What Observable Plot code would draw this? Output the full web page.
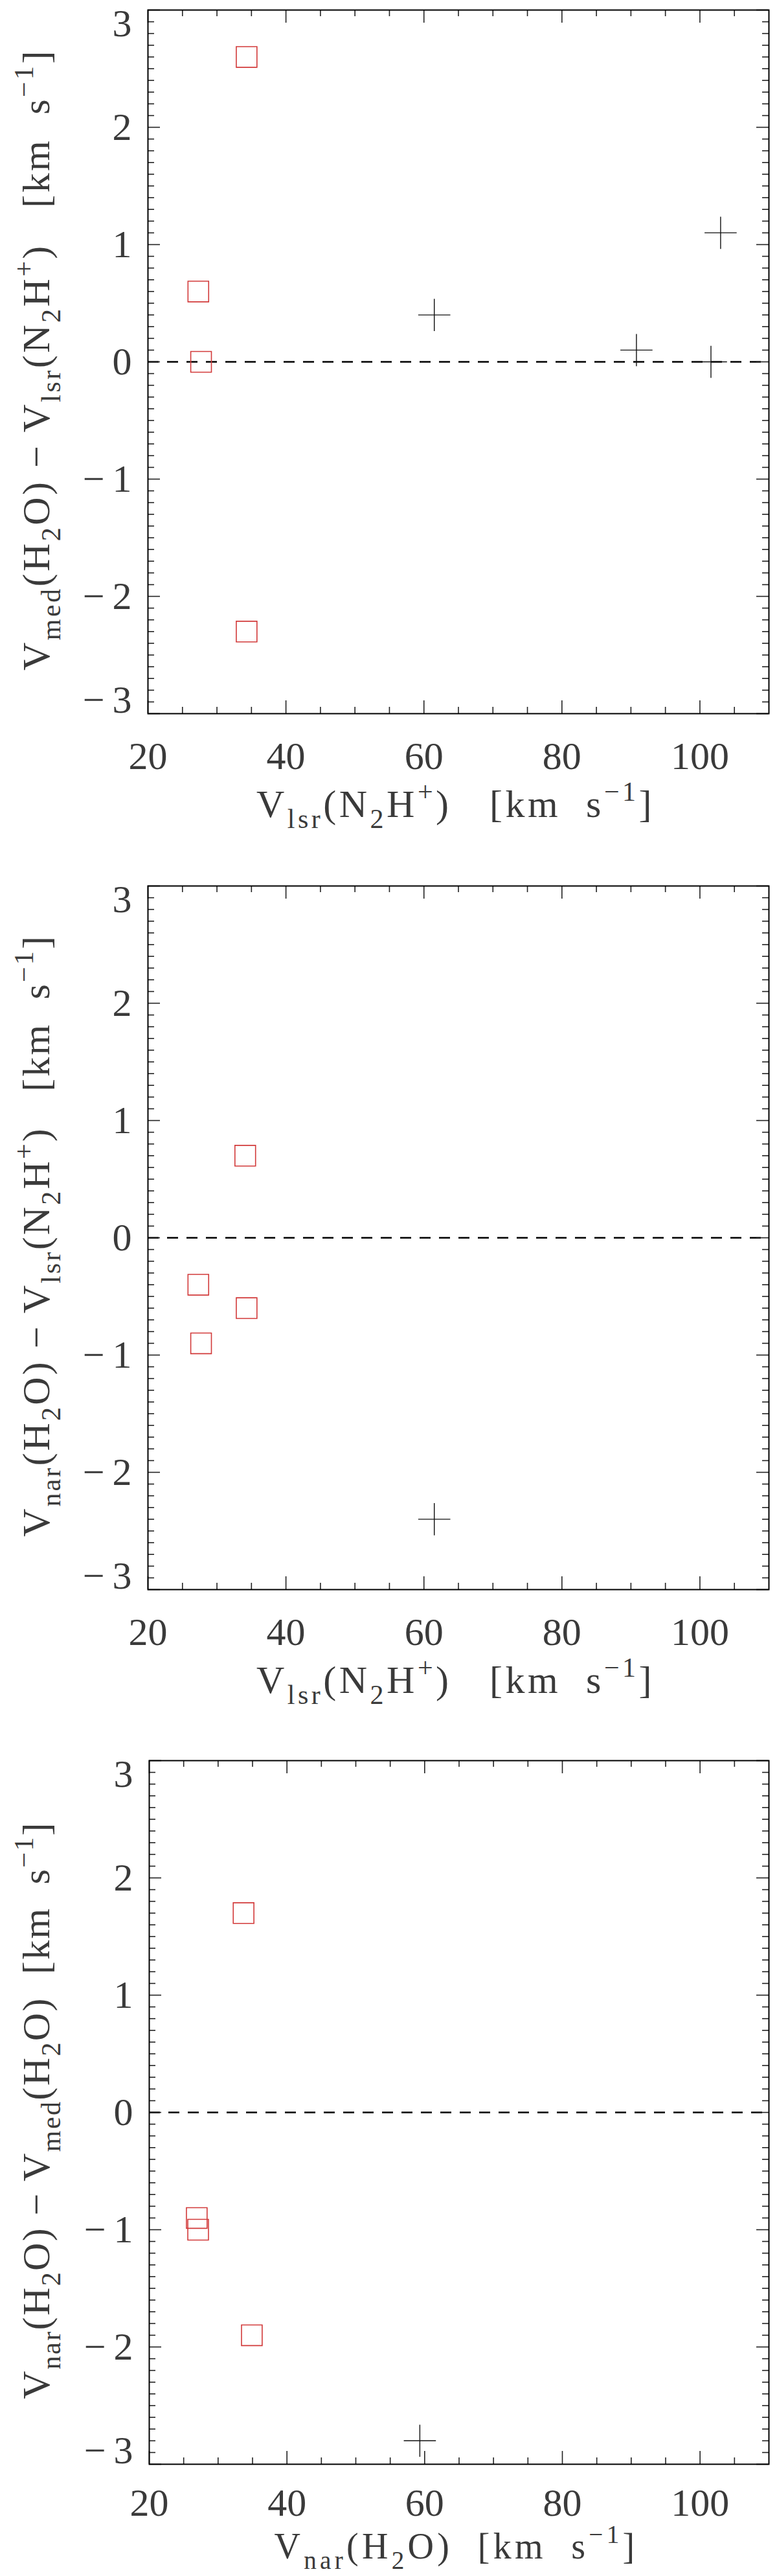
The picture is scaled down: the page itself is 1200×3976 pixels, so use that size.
<!DOCTYPE html>
<html><head><meta charset="utf-8">
<script src="https://cdn.jsdelivr.net/npm/d3@7"></script>
<script src="https://cdn.jsdelivr.net/npm/@observablehq/plot@0.6"></script>
<style>
html,body{margin:0;padding:0;background:#fff;}
#chart{width:1200px;}
#chart svg{display:block;}
</style></head><body><div id="chart"></div>
<script>
// ---- Panel 1: Vmed(H2O) - Vlsr(N2H+) vs Vlsr(N2H+)
const p1SquareX = [34.3, 27.3, 27.7, 34.3];
const p1SquareY = [2.6, 0.6, 0.0, -2.3];
const p1CrossX = [61.5, 90.8, 101.6, 103.0];
const p1CrossY = [0.4, 0.1, 0.0, 1.1];
// ---- Panel 2: Vnar(H2O) - Vlsr(N2H+) vs Vlsr(N2H+)
const p2SquareX = [34.1, 27.3, 34.3, 27.7];
const p2SquareY = [0.7, -0.4, -0.6, -0.9];
const p2CrossX = [61.5];
const p2CrossY = [-2.4];
// ---- Panel 3: Vnar(H2O) - Vmed(H2O) vs Vnar(H2O)
const p3SquareX = [33.7, 26.9, 27.1, 34.9];
const p3SquareY = [1.7, -0.9, -1.0, -1.9];
const p3CrossX = [59.3];
const p3CrossY = [-2.8];

// ---- ticks and labels
const xMajorTicks = [20, 40, 60, 80, 100];
const xMinorTicks = [25, 30, 35, 45, 50, 55, 65, 70, 75, 85, 90, 95, 105];
const yMajorTicks = [-3, -2, -1, 0, 1, 2, 3];
const yInnerLabels = [-2, -1, 0, 1, 2];
const yMinorTicks = d3.range(-29, 30).filter(v => v % 10 !== 0).map(v => v / 10);
const xDomain = [20, 110];
const yDomain = [-3, 3];

// axis titles as [text, kind] segments
const p1XTitle = [["V",""],["lsr","sub"],["(N",""],["2","sub"],["H",""],["+","sup"],[")   [km  s",""],["−1","sup"],["]",""]];
const p1YTitle = [["V",""],["med","sub"],["(H",""],["2","sub"],["O) − V",""],["lsr","sub"],["(N",""],["2","sub"],["H",""],["+","sup"],[")   [km  s",""],["−1","sup"],["]",""]];
const p2XTitle = p1XTitle;
const p2YTitle = [["V",""],["nar","sub"],["(H",""],["2","sub"],["O) − V",""],["lsr","sub"],["(N",""],["2","sub"],["H",""],["+","sup"],[")   [km  s",""],["−1","sup"],["]",""]];
const p3XTitle = [["V",""],["nar","sub"],["(H",""],["2","sub"],["O)  [km  s",""],["−1","sup"],["]",""]];
const p3YTitle = [["V",""],["nar","sub"],["(H",""],["2","sub"],["O) − V",""],["med","sub"],["(H",""],["2","sub"],["O)  [km  s",""],["−1","sup"],["]",""]];

const FONT = "Liberation Serif, DejaVu Serif, serif";
const FS = 60;
const INK = "#3a3a3a";
const textStyle = {fontSize: FS, fill: INK};
const fmt = d => d < 0 ? "−\u2009" + (-d) : String(d);

function addTitle(g, segs, attrs, rotate, targetLen, fs) {
  const t = g.append("text")
    .attr("font-family", FONT)
    .attr("font-size", fs)
    .attr("fill", INK)
    .attr("text-anchor", "middle")
    .style("white-space", "pre")
    .attr("transform", `translate(${attrs.x},${attrs.y})` + (rotate ? " rotate(-90)" : ""));
  let shift = 0;
  let n = 0;
  for (const [s, kind] of segs) {
    const target = kind === "sub" ? 0.28 * fs : kind === "sup" ? -0.42 * fs : 0;
    const sp = t.append("tspan").text(s).attr("dy", target - shift);
    if (kind) sp.attr("font-size", fs * 0.7);
    shift = target;
    n += s.length;
  }
  const natural = t.node().getComputedTextLength();
  if (natural > 0 && targetLen) {
    const ls = (targetLen - natural) / n;
    t.style("letter-spacing", ls + "px");
  }
}

function panel(o) {
  const frameH = 1086;
  const frameW = 1200 - o.marginLeft - 13;
  const squares = o.sx.map((x, i) => ({x, y: o.sy[i]}));
  const crosses = o.cx.map((x, i) => ({x, y: o.cy[i]}));
  const tickStyle = {stroke: "#222", strokeWidth: 1.6};
  const plot = Plot.plot({
    width: 1200,
    height: o.height,
    marginTop: 15,
    marginLeft: o.marginLeft,
    marginRight: 13,
    marginBottom: o.height - 15 - frameH,
    x: {domain: xDomain, axis: null},
    y: {domain: yDomain, axis: null},
    style: {fontFamily: FONT, background: "white"},
    marks: [
      Plot.ruleY([0], {stroke: "black", strokeWidth: 2.6, strokeDasharray: "17,13"}),
      // bottom / top x ticks
      Plot.ruleX(xMajorTicks, {x: d => d, insetTop: frameH - 20, ...tickStyle}),
      Plot.ruleX(xMajorTicks, {x: d => d, insetBottom: frameH - 20, ...tickStyle}),
      Plot.ruleX(xMinorTicks, {x: d => d, insetTop: frameH - 10, ...tickStyle}),
      Plot.ruleX(xMinorTicks, {x: d => d, insetBottom: frameH - 10, ...tickStyle}),
      // left / right y ticks
      Plot.ruleY(yMajorTicks, {y: d => d, insetRight: frameW - 19, ...tickStyle}),
      Plot.ruleY(yMajorTicks, {y: d => d, insetLeft: frameW - 19, ...tickStyle}),
      Plot.ruleY(yMinorTicks, {y: d => d, insetRight: frameW - 10, ...tickStyle}),
      Plot.ruleY(yMinorTicks, {y: d => d, insetLeft: frameW - 10, ...tickStyle}),
      Plot.frame({stroke: "black", strokeWidth: 2}),
      // tick labels
      Plot.text(xMajorTicks, {x: d => d, text: d => String(d), frameAnchor: "bottom", lineAnchor: "middle", dy: o.xLabelDy, ...textStyle}),
      Plot.text(yInnerLabels, {y: d => d, text: fmt, frameAnchor: "left", textAnchor: "end", lineAnchor: "middle", dx: -25, ...textStyle}),
      Plot.text([3], {y: d => d, text: fmt, frameAnchor: "left", textAnchor: "end", lineAnchor: "middle", dx: -25, dy: 21, ...textStyle}),
      Plot.text([-3], {y: d => d, text: fmt, frameAnchor: "left", textAnchor: "end", lineAnchor: "middle", dx: -25, dy: -21, ...textStyle}),
      // data
      Plot.dot(squares, {x: "x", y: "y", symbol: "square", r: 18, stroke: "#d23a3a", strokeWidth: 1.6, fill: "none"}),
      Plot.dot(crosses, {x: "x", y: "y", symbol: "plus", r: 16, stroke: "#111", strokeWidth: 1.4})
    ]
  });
  document.getElementById("chart").appendChild(plot);
  const svg = d3.select(plot);
  const cxMid = o.marginLeft + frameW / 2 - 4;
  addTitle(svg, o.xTitle, {x: cxMid, y: 15 + frameH + o.xTitleDy}, false, o.xLen, o.xTitleFS);
  addTitle(svg, o.yTitle, {x: 76, y: 15 + frameH / 2 - 3}, true, o.yLen, FS);
}

panel({sx: p1SquareX, sy: p1SquareY, cx: p1CrossX, cy: p1CrossY, height: 1352, marginLeft: 228, xTitle: p1XTitle, yTitle: p1YTitle, xLabelDy: 66, xTitleDy: 160, xTitleFS: 60, xLen: 615, yLen: 960});
panel({sx: p2SquareX, sy: p2SquareY, cx: p2CrossX, cy: p2CrossY, height: 1350, marginLeft: 228, xTitle: p2XTitle, yTitle: p2YTitle, xLabelDy: 66, xTitleDy: 160, xTitleFS: 60, xLen: 615, yLen: 930});
panel({sx: p3SquareX, sy: p3SquareY, cx: p3CrossX, cy: p3CrossY, height: 1274, marginLeft: 230, xTitle: p3XTitle, yTitle: p3YTitle, xLabelDy: 60, xTitleDy: 146, xTitleFS: 56, xLen: 562, yLen: 892});
</script></body></html>
